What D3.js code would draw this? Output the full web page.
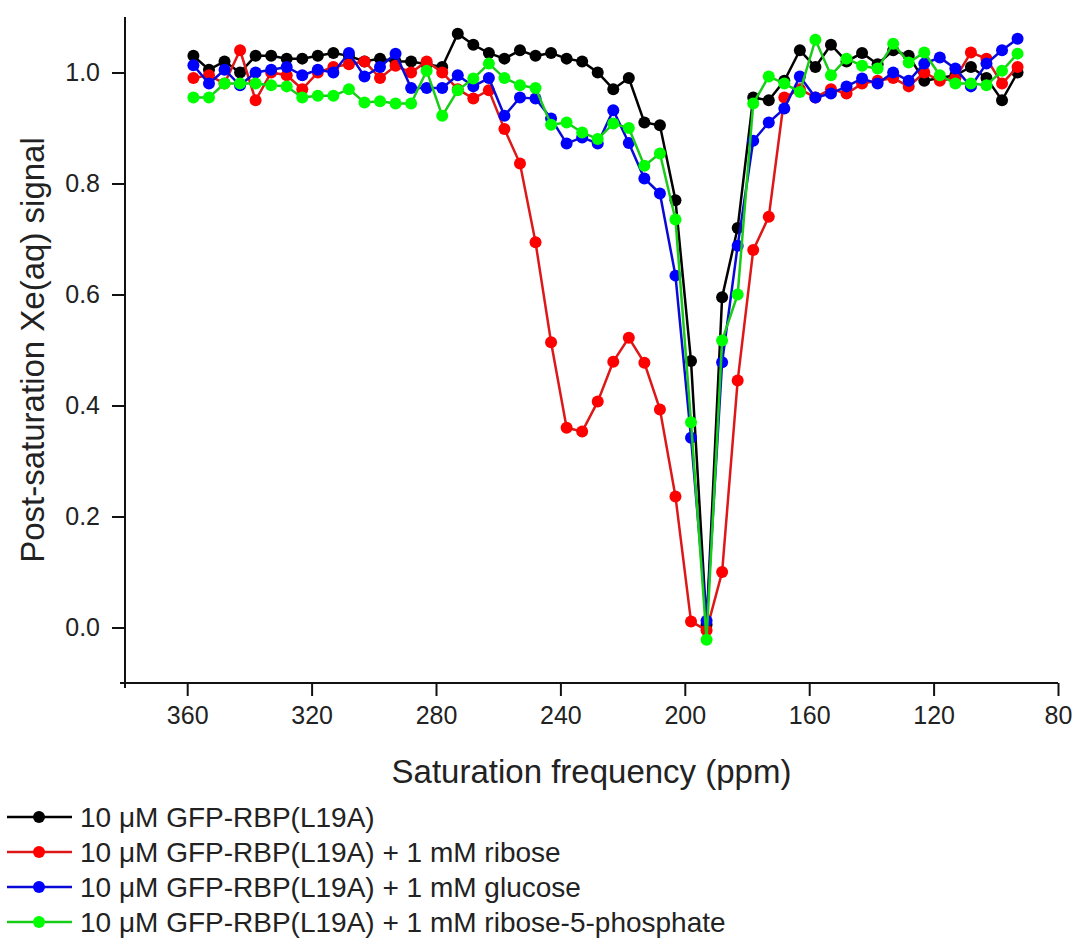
<!DOCTYPE html>
<html>
<head>
<meta charset="utf-8">
<script src="https://cdn.jsdelivr.net/npm/d3@7"></script>
<style>
  body { margin: 0; background: #fff; }
  text { font-family: "Liberation Sans", Arial, sans-serif; fill: #222; }
</style>
</head>
<body>
<div id="chart"></div>
<script>
// saturation frequencies (ppm), shared by all four series
var ppm = [358, 353, 348, 343, 338, 333, 328, 323, 318, 313, 308, 303, 298, 293, 288, 283, 278, 273,
  268, 263, 258, 253, 248, 243, 238, 233, 228, 223, 218, 213, 208, 203, 198, 193, 188, 183, 178,
  173, 168, 163, 158, 153, 148, 143, 138, 133, 128, 123, 118, 113, 108, 103, 98, 93];

var base = [1.03, 1.005, 1.02, 1.0, 1.03, 1.03, 1.025, 1.025, 1.03, 1.035, 1.03, 1.02, 1.025, 1.02,
  1.02, 1.015, 1.01, 1.07, 1.05, 1.035, 1.025, 1.04, 1.03, 1.035, 1.025, 1.02, 1.0, 0.97, 0.99,
  0.91, 0.905, 0.77, 0.48, 0.005, 0.595, 0.72, 0.955, 0.95, 0.985, 1.04, 1.01, 1.05, 1.02, 1.035,
  1.015, 1.04, 1.03, 0.985, 0.99, 0.995, 1.01, 0.99, 0.95, 1.0];

var ribose = [0.99, 0.995, 0.98, 1.04, 0.95, 1.0, 0.995, 0.97, 1.0, 1.01, 1.015, 1.02, 0.99, 1.012,
  1.0, 1.02, 1.0, 0.97, 0.953, 0.968, 0.898, 0.836, 0.694, 0.514, 0.36, 0.353, 0.407, 0.479, 0.522,
  0.477, 0.393, 0.236, 0.011, -0.005, 0.10, 0.445, 0.68, 0.74, 0.955, 0.97, 0.955, 0.97, 0.962,
  0.98, 0.985, 0.99, 0.975, 1.0, 0.985, 0.99, 1.036, 1.025, 0.98, 1.01];

var glucose = [1.013, 0.98, 1.005, 0.977, 1.0, 1.005, 1.01, 0.995, 1.005, 1.0, 1.035, 0.993, 1.01,
  1.034, 0.972, 0.972, 0.972, 0.995, 0.975, 0.99, 0.922, 0.955, 0.953, 0.917, 0.872, 0.883, 0.872,
  0.932, 0.873, 0.809, 0.782, 0.634, 0.342, 0.012, 0.478, 0.688, 0.877, 0.91, 0.935, 0.993, 0.955,
  0.962, 0.975, 0.989, 0.98, 1.0, 0.985, 1.016, 1.027, 1.007, 0.975, 1.016, 1.04, 1.061];

var r5p = [0.955, 0.955, 0.98, 0.98, 0.98, 0.977, 0.975, 0.955, 0.958, 0.958, 0.97, 0.946, 0.948,
  0.944, 0.944, 1.003, 0.922, 0.968, 0.989, 1.016, 0.99, 0.977, 0.972, 0.906, 0.91, 0.892, 0.88,
  0.908, 0.90, 0.832, 0.854, 0.735, 0.37, -0.022, 0.517, 0.60, 0.944, 0.993, 0.98, 0.965, 1.059,
  0.995, 1.025, 1.012, 1.007, 1.052, 1.018, 1.036, 0.995, 0.98, 0.98, 0.977, 1.003, 1.034];

var seriesNames = ["10 \u03bcM GFP-RBP(L19A)",
  "10 \u03bcM GFP-RBP(L19A) + 1 mM ribose",
  "10 \u03bcM GFP-RBP(L19A) + 1 mM glucose",
  "10 \u03bcM GFP-RBP(L19A) + 1 mM ribose-5-phosphate"];
var seriesValues = [base, ribose, glucose, r5p];
var lineColors = ["#000000", "#dd1818", "#0a0ad8", "#18cc18"];
var dotColors = ["#000000", "#ff0000", "#0000ff", "#00ff00"];

var xMajor = [360, 320, 280, 240, 200, 160, 120, 80];
var xMinor = [380, 340, 300, 260, 220, 180, 140, 100];
var yMajor = [0.0, 0.2, 0.4, 0.6, 0.8, 1.0];
var yMinor = [-0.1, 0.1, 0.3, 0.5, 0.7, 0.9, 1.1];

window.onload = function(){
  var w = 1078, h = 942;
  var left = 125, right = 1058, top = 17, bottom = 683;

  var svg = d3.select("#chart").append("svg")
    .attr("width", w)
    .attr("height", h);

  var x = d3.scaleLinear().domain([380, 80]).range([left, right]);
  var y = d3.scaleLinear().domain([-0.1, 1.1]).range([bottom, top]);

  // axes
  var gx = svg.append("g").attr("transform", "translate(0," + bottom + ")");
  gx.call(d3.axisBottom(x).tickValues(xMinor).tickSize(7).tickFormat(""));
  gx.call(d3.axisBottom(x).tickValues(xMajor).tickSize(13).tickPadding(10).tickSizeOuter(0)
    .tickFormat(d3.format("d")));
  gx.selectAll(".domain").remove();
  gx.selectAll("text").style("font-size", "25px").attr("fill", "#222");

  var gy = svg.append("g").attr("transform", "translate(" + left + ",0)");
  gy.call(d3.axisLeft(y).tickValues(yMinor).tickSize(7).tickFormat(""));
  gy.call(d3.axisLeft(y).tickValues(yMajor).tickSize(13).tickPadding(12).tickSizeOuter(0)
    .tickFormat(d3.format(".1f")));
  gy.selectAll(".domain").remove();
  gy.selectAll("text").style("font-size", "25px").attr("fill", "#222");
  svg.selectAll(".tick line").attr("stroke", "#111").attr("stroke-width", 2);

  svg.append("line").attr("x1", left - 5).attr("x2", right).attr("y1", bottom).attr("y2", bottom)
    .attr("stroke", "#111").attr("stroke-width", 2);
  svg.append("line").attr("x1", left).attr("x2", left).attr("y1", top).attr("y2", bottom + 5)
    .attr("stroke", "#111").attr("stroke-width", 2);

  svg.append("text")
    .attr("x", (left + right) / 2)
    .attr("y", 783)
    .attr("text-anchor", "middle")
    .style("font-size", "33px")
    .text("Saturation frequency (ppm)");

  svg.append("text")
    .attr("transform", "translate(44," + (top + bottom) / 2 + ") rotate(-90)")
    .attr("text-anchor", "middle")
    .style("font-size", "33px")
    .text("Post-saturation Xe(aq) signal");

  // series
  var line = d3.line()
    .x(function(d){ return x(d[0]); })
    .y(function(d){ return y(d[1]); });

  seriesValues.forEach(function(vals, k){
    var pts = ppm.map(function(p, i){ return [p, vals[i]]; });
    var g = svg.append("g");
    g.append("path")
      .attr("d", line(pts))
      .attr("fill", "none")
      .attr("stroke", lineColors[k])
      .attr("stroke-width", 2.5);
    g.selectAll("circle").data(pts).enter().append("circle")
      .attr("cx", function(d){ return x(d[0]); })
      .attr("cy", function(d){ return y(d[1]); })
      .attr("r", 6)
      .attr("fill", dotColors[k]);
  });

  // legend
  var leg = svg.append("g");
  seriesNames.forEach(function(name, k){
    var ly = 817 + k * 35;
    leg.append("line").attr("x1", 7).attr("x2", 72).attr("y1", ly).attr("y2", ly)
      .attr("stroke", lineColors[k]).attr("stroke-width", 2.5);
    leg.append("circle").attr("cx", 39).attr("cy", ly).attr("r", 6).attr("fill", dotColors[k]);
    leg.append("text").attr("x", 80).attr("y", ly + 10)
      .style("font-size", "28px")
      .text(name);
  });
};
</script>
</body>
</html>
